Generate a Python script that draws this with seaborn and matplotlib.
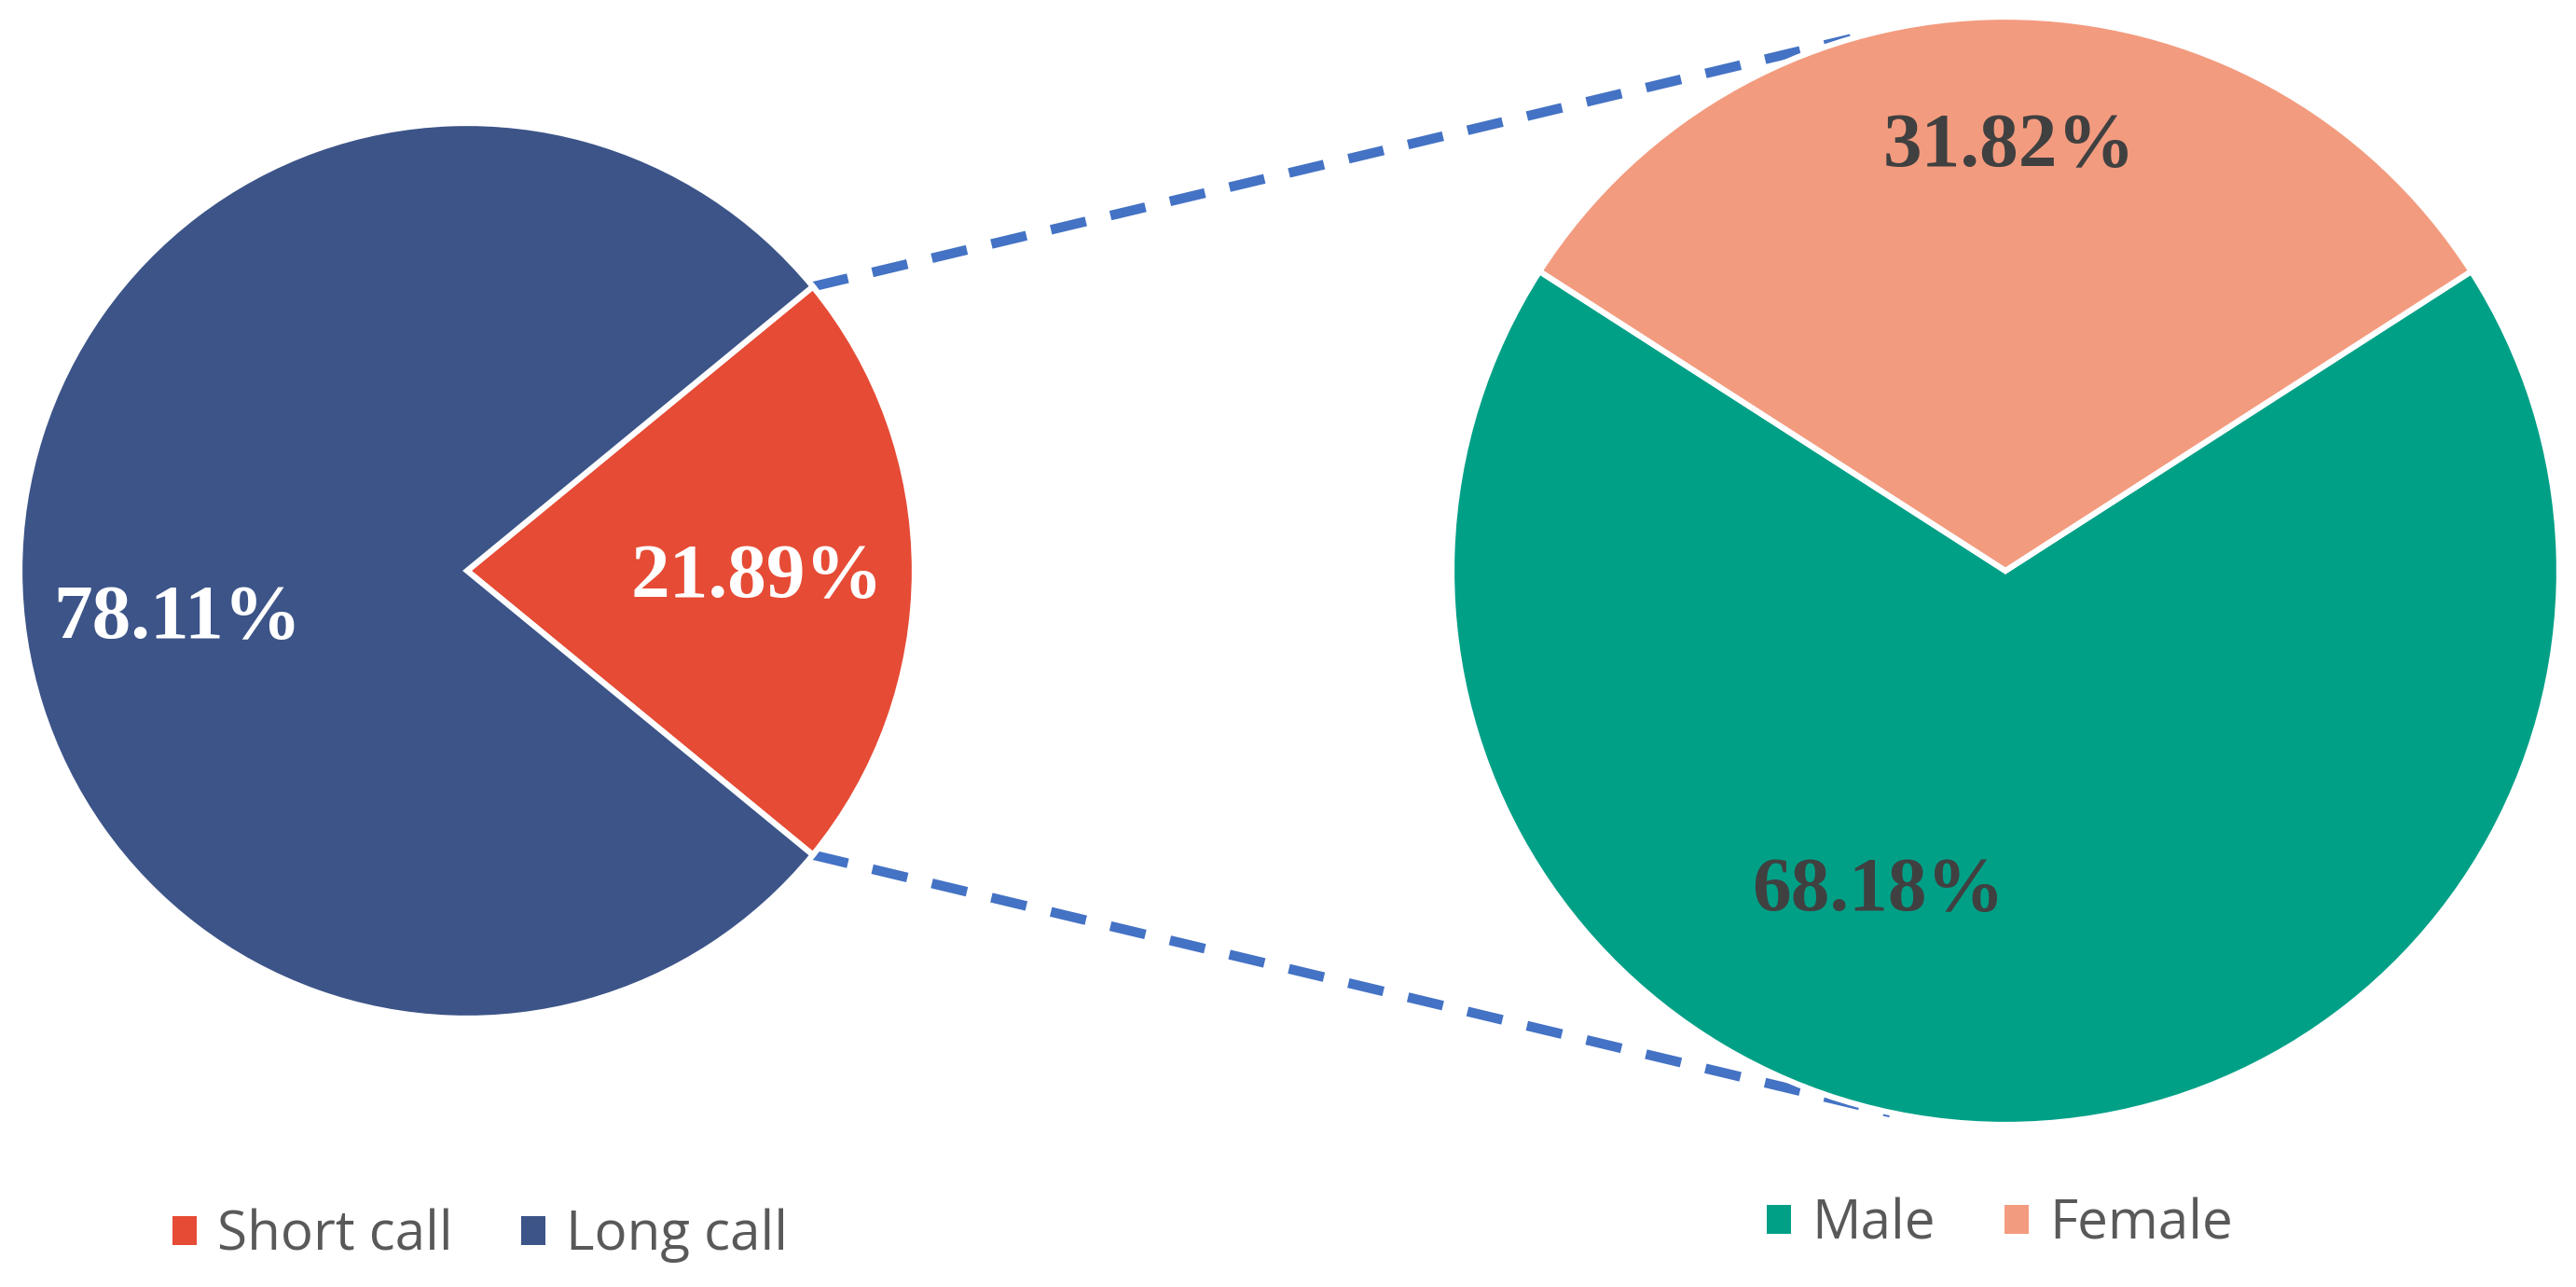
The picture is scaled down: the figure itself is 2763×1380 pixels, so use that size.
"""Pie-of-pie style chart: call length split, then gender split of the short calls."""
import numpy as np
import matplotlib
matplotlib.use("Agg")
import matplotlib.pyplot as plt
import seaborn as sns

# ---- data ----
call_labels = ["Short call", "Long call"]
call_values = [21.89, 78.11]
gender_labels = ["Male", "Female"]
gender_values = [68.18, 31.82]

call_colors = ["#E64B35", "#3C5488"]
gender_colors = ["#00A087", "#F39B7F"]

sns.set_theme(style="white")
plt.rcParams["font.family"] = ["Open Sans", "DejaVu Sans"]

W, H = 2763, 1380
fig = plt.figure(figsize=(W / 100, H / 100), dpi=100)
ax = fig.add_axes([0, 0, 1, 1])

# pie geometry (pixel units of the figure, y upwards)
left_c, left_r = (501, 768), 480
right_c, right_r = (2151, 768), 594

# small pie: Short call centred on the right side
left_start = -call_values[0] * 3.6 / 2
left_wedges, _ = ax.pie(
    call_values, colors=call_colors, startangle=left_start, counterclock=True,
    center=left_c, radius=left_r, frame=True,
    wedgeprops=dict(edgecolor="white", linewidth=4.5), normalize=True,
)
# big pie: Female centred on the top
right_start = 90 + gender_values[1] * 3.6 / 2
right_wedges, _ = ax.pie(
    gender_values, colors=gender_colors, startangle=right_start, counterclock=True,
    center=right_c, radius=right_r, frame=True,
    wedgeprops=dict(edgecolor="white", linewidth=4.5), normalize=True,
)
ax.set_xlim(0, W)
ax.set_ylim(0, H)
ax.set_aspect("equal")
ax.axis("off")

# connector lines from the Short call wedge tips to the big pie
half = np.deg2rad(call_values[0] * 3.6 / 2)
for a_left, a_right in [(half, np.deg2rad(106.2)), (-half, np.deg2rad(258.0))]:
    x0 = left_c[0] + left_r * np.cos(a_left)
    y0 = left_c[1] + left_r * np.sin(a_left)
    x1 = right_c[0] + right_r * np.cos(a_right)
    y1 = right_c[1] + right_r * np.sin(a_right)
    ax.plot([x0, x1], [y0, y1], color="#4472C4", lw=7.5, dashes=(3.7, 2.6), zorder=0.5)

# percentage labels
lab_kw = dict(family=["Liberation Serif", "DejaVu Serif"], fontweight="bold",
              fontsize=60, ha="center", va="center")
ax.text(190, H - 665, f"{call_values[1]:.2f}%", color="white", **lab_kw)
ax.text(812, H - 621, f"{call_values[0]:.2f}%", color="white", **lab_kw)
ax.text(2155, H - 159, f"{gender_values[1]:.2f}%", color="#404040", **lab_kw)
ax.text(2015, H - 956, f"{gender_values[0]:.2f}%", color="#404040", **lab_kw)

# legends
leg_kw = dict(loc="center", ncol=2, frameon=False, fontsize=42,
              handlelength=0.45, handleheight=0.45, handletextpad=0.38,
              columnspacing=1.26, labelcolor="#595959", bbox_transform=ax.transData)
leg1 = ax.legend(left_wedges, call_labels, bbox_to_anchor=(515, H - 1325), **leg_kw)
for h in leg1.legend_handles:
    h.set_edgecolor("none")
ax.add_artist(leg1)
leg2 = ax.legend(right_wedges, gender_labels, bbox_to_anchor=(2145, H - 1313), **leg_kw)
for h in leg2.legend_handles:
    h.set_edgecolor("none")

fig.savefig("out.png", dpi=100, facecolor="white")
